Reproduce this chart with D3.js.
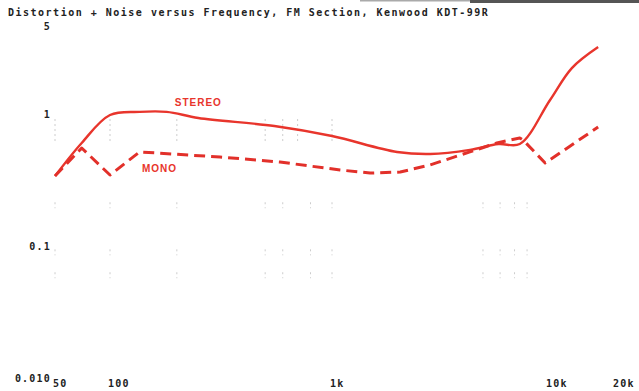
<!DOCTYPE html>
<html>
<head>
<meta charset="utf-8">
<script src="https://cdn.jsdelivr.net/npm/d3@7"></script>
<style>
  html, body { margin: 0; padding: 0; background: #fff; }
  svg { display: block; }
</style>
</head>
<body>
<svg id="chart" width="639" height="391"></svg>
<script>
// ---- data ----
const title = "Distortion + Noise versus Frequency, FM Section, Kenwood KDT-99R";
const xTickValues = [50, 100, 1000, 10000, 20000];
const xTickLabels = ["50", "100", "1k", "10k", "20k"];
const yTickValues = [5, 1, 0.1, 0.01];
const yTickLabels = ["5", "1", "0.1", "0.010"];

const stereoFreq = [50, 70, 100, 136, 180, 250, 550, 1000, 2000, 2850, 4350, 5900, 7400, 10200, 12800, 16800];
const stereoVals = [0.333, 0.593, 0.966, 1.02, 1.02, 0.917, 0.797, 0.669, 0.507, 0.489, 0.525, 0.582, 0.582, 1.25, 2.19, 3.16];

const monoFreq = [50, 70, 100, 136, 313, 583, 1090, 1500, 2070, 2840, 4350, 5800, 7400, 7700, 9700, 16800];
const monoVals = [0.333, 0.543, 0.339, 0.507, 0.464, 0.425, 0.370, 0.351, 0.357, 0.404, 0.507, 0.593, 0.647, 0.62, 0.418, 0.783];

const seriesLabels = [
  { name: "STEREO", freq: 250, value: 1.19 },
  { name: "MONO", freq: 167, value: 0.377 }
];

// faint grid marks
const gridFreqs = [50, 100, 200, 500, 600, 800, 1000, 5000, 6000, 7000, 8000];
const gridVals = [0.2, 0.088, 0.059];

// ---- scales ----
const svg = d3.select("#chart");
const x = d3.scaleLog()
  .domain([50, 100, 1000, 10000, 20000])
  .range([55, 110, 332, 548, 615]);
const y = d3.scaleLog()
  .domain([0.01, 5])
  .range([377, 377 - 132 * Math.log10(500)]);

const red = "#e8352c";
const monoFont = "'DejaVu Sans Mono', monospace";

// top scan artifact bar
svg.append("rect").attr("x", 360).attr("y", 0).attr("width", 112).attr("height", 1.5).attr("fill", "#aaa");
svg.append("rect").attr("x", 470).attr("y", 0).attr("width", 169).attr("height", 3).attr("fill", "#555");

// title
svg.append("text")
  .attr("x", 8).attr("y", 16)
  .attr("font-family", monoFont)
  .attr("font-weight", "bold")
  .attr("font-size", 10)
  .attr("letter-spacing", 1.5)
  .attr("fill", "#222")
  .text(title);

// grid marks
const gm = svg.append("g").attr("stroke", "#ccc").attr("stroke-width", 1).attr("stroke-dasharray", "2,3");
gridFreqs.forEach(f => {
  gridVals.forEach(v => {
    gm.append("line")
      .attr("x1", x(f)).attr("x2", x(f))
      .attr("y1", y(v) - 3).attr("y2", y(v) + 3);
  });
});
[50, 100, 200, 500, 600, 700, 1000].forEach(f => {
  gm.append("line").attr("x1", x(f)).attr("x2", x(f))
    .attr("y1", y(0.9)).attr("y2", y(0.6));
});

// y axis labels
svg.append("g").selectAll("text")
  .data(yTickValues)
  .join("text")
  .attr("x", 51)
  .attr("y", d => Math.max(y(d) + 5, 30))
  .attr("text-anchor", "end")
  .attr("font-family", monoFont)
  .attr("font-weight", "bold")
  .attr("font-size", 10)
  .attr("letter-spacing", 1.2)
  .attr("fill", "#222")
  .text((d, i) => yTickLabels[i]);

// x axis labels
svg.append("g").selectAll("text")
  .data(xTickValues)
  .join("text")
  .attr("x", d => x(d) - 2)
  .attr("y", 387)
  .attr("font-family", monoFont)
  .attr("font-weight", "bold")
  .attr("font-size", 10)
  .attr("letter-spacing", 1.2)
  .attr("fill", "#222")
  .text((d, i) => xTickLabels[i]);

// lines
const stereoData = stereoFreq.map((f, i) => [f, stereoVals[i]]);
const monoData = monoFreq.map((f, i) => [f, monoVals[i]]);

svg.append("path")
  .datum(stereoData)
  .attr("fill", "none")
  .attr("stroke", red)
  .attr("stroke-width", 2.4)
  .attr("stroke-linejoin", "round")
  .attr("d", d3.line().x(d => x(d[0])).y(d => y(d[1])).curve(d3.curveCatmullRom.alpha(0.5)));

svg.append("path")
  .datum(monoData)
  .attr("fill", "none")
  .attr("stroke", "#e2302a")
  .attr("stroke-width", 3)
  .attr("stroke-dasharray", "11,6")
  .attr("stroke-linejoin", "round")
  .attr("d", d3.line().x(d => x(d[0])).y(d => y(d[1])).curve(d3.curveLinear));

// series labels
svg.append("g").selectAll("text")
  .data(seriesLabels)
  .join("text")
  .attr("x", d => x(d.freq))
  .attr("y", d => y(d.value))
  .attr("text-anchor", "middle")
  .attr("dominant-baseline", "middle")
  .attr("font-family", "'Liberation Sans', Arial, sans-serif")
  .attr("font-weight", "bold")
  .attr("font-size", 10)
  .attr("letter-spacing", 1)
  .attr("fill", red)
  .text(d => d.name);
</script>
</body>
</html>
